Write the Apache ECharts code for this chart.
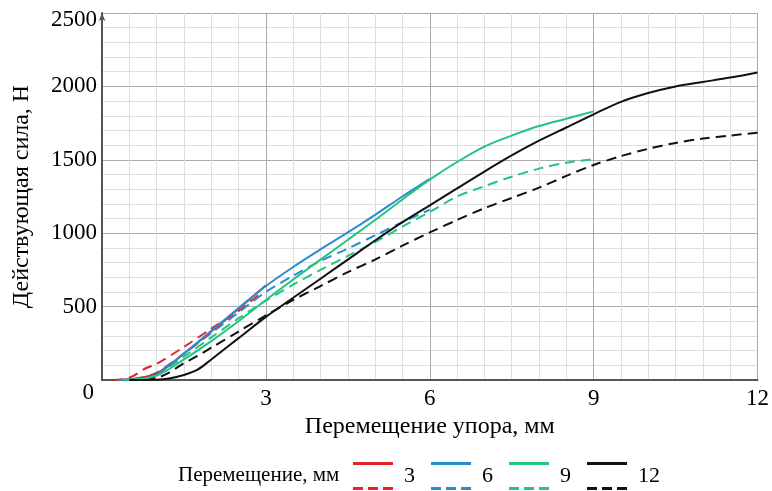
<!DOCTYPE html>
<html><head><meta charset="utf-8">
<script src="https://cdn.jsdelivr.net/npm/echarts@6/dist/echarts.min.js"></script>
<style>html,body{margin:0;padding:0;background:#fff}#c{width:772px;height:491px}</style>
</head><body><div id="c"></div>
<script>
// ---- data (displacement mm, force N) ----
const xRed      = [0.3, 0.6, 1.0, 1.5, 2.0, 2.5, 3.0];
const fRedSolid = [0, 8, 45, 180, 330, 485, 645];
const xRedD     = [0.2, 0.5, 0.8, 1.0, 1.5, 2.0, 2.5, 2.9];
const fRedDash  = [0, 15, 80, 110, 225, 350, 470, 590];

const xBlue      = [0.3, 0.7, 1.0, 1.5, 2.0, 2.5, 3.0, 3.5, 4.0, 4.5, 5.0, 5.5, 6.0];
const fBlueSolid = [0, 5, 35, 180, 335, 490, 640, 770, 890, 1005, 1125, 1250, 1370];
const fBlueDash  = [0, 15, 50, 180, 320, 460, 600, 710, 810, 895, 985, 1075, 1160];

const xGreen      = [0.4, 1.0, 1.5, 2.0, 2.5, 3.0, 3.5, 4.0, 4.5, 5.0, 5.5, 6.0, 6.5, 7.0, 7.5, 8.0, 8.5, 9.0];
const fGreenSolid = [0, 30, 140, 265, 400, 545, 685, 820, 955, 1090, 1230, 1365, 1485, 1590, 1665, 1730, 1780, 1830];
const fGreenDash  = [0, 40, 160, 290, 420, 540, 650, 750, 845, 940, 1045, 1145, 1250, 1320, 1385, 1440, 1480, 1505];

const xBlack      = [0.5, 1.0, 1.2, 1.5, 1.75, 2.0, 2.5, 3.0, 3.5, 4.0, 4.5, 5.0, 5.5, 6.0, 6.5, 7.0, 7.5, 8.0, 8.5, 9.0, 9.5, 10.0, 10.5, 11.0, 11.5, 12.0];
const fBlackSolid = [0, 2, 8, 34, 70, 140, 285, 430, 560, 690, 820, 950, 1075, 1190, 1305, 1420, 1530, 1630, 1720, 1810, 1895, 1955, 2000, 2030, 2060, 2095];
const fBlackDash  = [0, 15, 45, 115, 165, 220, 330, 440, 545, 640, 735, 820, 915, 1005, 1090, 1170, 1240, 1310, 1390, 1465, 1525, 1575, 1615, 1645, 1665, 1685];

const legendNames = ['3', '6', '9', '12'];
const colors = ['#e0262c', '#2a8dd0', '#22c47e', '#111111'];
const xAxisName = 'Перемещение упора, мм';
const yAxisName = 'Действующая сила, Н';
const legendTitle = 'Перемещение, мм';

const pairs = (xs, ys) => xs.map((x, i) => [x, ys[i]]);

const font = 'Liberation Serif, Times New Roman, serif';
const icon = 'path://M0,0H40V3H0Z M0,25H10V28H0Z M15,25H25V28H15Z M30,25H40V28H30Z';

function line(name, data, color, dashed) {
  return {
    name, type: 'line', data, showSymbol: false, symbol: 'none', smooth: 0.3,
    lineStyle: { color, width: 2, type: dashed ? [10, 6] : 'solid' },
    itemStyle: { color },
    z: dashed ? 2 : 3
  };
}

const chart = echarts.init(document.getElementById('c'));
chart.setOption({
  animation: false,
  backgroundColor: '#fff',
  grid: { left: 102, right: 12, top: 13, bottom: 111 },
  xAxis: {
    type: 'value', min: 0, max: 12, interval: 3,
    name: xAxisName, nameLocation: 'middle', nameGap: 30,
    nameTextStyle: { fontFamily: font, fontSize: 24, color: '#000' },
    axisLine: { show: true, lineStyle: { color: '#555', width: 2 } },
    axisTick: { show: false },
    axisLabel: { fontFamily: font, fontSize: 23, color: '#000', margin: 7,
      formatter: v => v === 0 ? '' : String(v) },
    splitLine: { show: true, lineStyle: { color: '#ababab', width: 1 } },
    minorTick: { show: false, splitNumber: 6 },
    minorSplitLine: { show: true, lineStyle: { color: '#dedede', width: 1 } }
  },
  yAxis: {
    type: 'value', min: 0, max: 2500, interval: 500,
    name: yAxisName, nameLocation: 'middle', nameGap: 68,
    nameTextStyle: { fontFamily: font, fontSize: 24, color: '#000' },
    axisLine: { show: true, lineStyle: { color: '#555', width: 2 }, symbol: ['none', 'arrow'], symbolSize: [5, 8] },
    axisTick: { show: false },
    axisLabel: { fontFamily: font, fontSize: 23, color: '#000', margin: 5,
      formatter: v => v === 0 ? '{z|0}' : (v === 2500 ? '{t|2500}' : String(v)),
      rich: {
        z: { fontFamily: font, fontSize: 23, color: '#000', padding: [26, 3, 0, 0] },
        t: { fontFamily: font, fontSize: 23, color: '#000', padding: [14, 0, 0, 0] }
      } },
    splitLine: { show: true, lineStyle: { color: '#ababab', width: 1 } },
    minorTick: { show: false, splitNumber: 5 },
    minorSplitLine: { show: true, lineStyle: { color: '#dedede', width: 1 } }
  },
  legend: {
    data: legendNames, left: 353, top: 462, orient: 'horizontal', padding: 0,
    icon, itemWidth: 40, itemHeight: 28, itemGap: 16,
    textStyle: { fontFamily: font, fontSize: 22, color: '#000', padding: [4, 0, 0, 6] },
    selectedMode: false
  },
  graphic: [{
    type: 'text', left: 178, top: 465,
    style: { text: legendTitle, font: '21px ' + font, fill: '#000' }
  }],
  series: [
    line('3', pairs(xRed, fRedSolid), colors[0], false),
    line('3 dashed', pairs(xRedD, fRedDash), colors[0], true),
    line('6', pairs(xBlue, fBlueSolid), colors[1], false),
    line('6 dashed', pairs(xBlue, fBlueDash), colors[1], true),
    line('9', pairs(xGreen, fGreenSolid), colors[2], false),
    line('9 dashed', pairs(xGreen, fGreenDash), colors[2], true),
    line('12', pairs(xBlack, fBlackSolid), colors[3], false),
    line('12 dashed', pairs(xBlack, fBlackDash), colors[3], true)
  ]
});
</script></body></html>
